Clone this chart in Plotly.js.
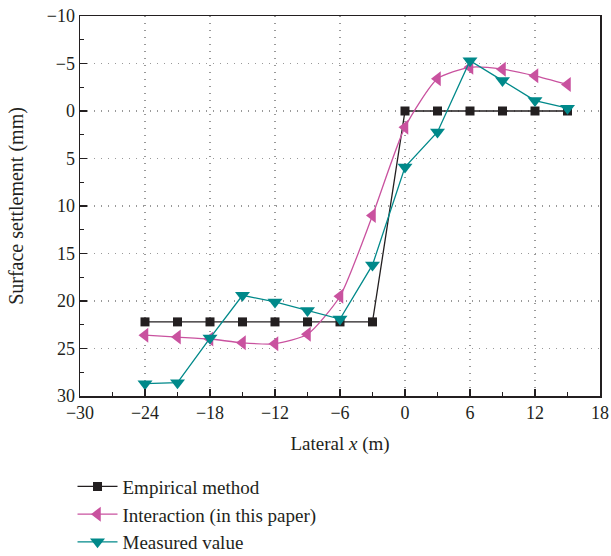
<!DOCTYPE html>
<html>
<head>
<meta charset="utf-8">
<script src="https://cdn.plot.ly/plotly-3.0.1.min.js"></script>
<style>html,body{margin:0;padding:0;background:#fff;}</style>
</head>
<body>
<div id="chart" style="width:611px;height:556px;"></div>
<script>
const xValues = [-24, -21, -18, -15, -12, -9, -6, -3, 0, 3, 6, 9, 12, 15];
const empirical = [22.2, 22.2, 22.2, 22.2, 22.2, 22.2, 22.2, 22.2, 0, 0, 0, 0, 0, 0];
const interaction = [23.6, 23.8, 24.0, 24.4, 24.5, 23.5, 19.5, 11.0, 1.7, -3.4, -4.6, -4.4, -3.7, -2.8];
const measured = [28.7, 28.6, 23.9, 19.4, 20.1, 21.0, 21.9, 16.2, 5.9, 2.2, -5.3, -3.2, -1.1, -0.3];
const seriesNames = ["Empirical method", "Interaction (in this paper)", "Measured value"];
const xTicks = [-30, -24, -18, -12, -6, 0, 6, 12, 18];
const yTicks = [-10, -5, 0, 5, 10, 15, 20, 25, 30];

const FONT = "Liberation Serif, Times New Roman, serif";
const fmt = v => v < 0 ? "\u2212" + Math.abs(v) : String(v);

const traces = [
  {
    x: xValues, y: empirical, name: seriesNames[0], mode: "lines+markers",
    line: {color: "#231f20", width: 1.3},
    marker: {symbol: "square", size: 9, color: "#231f20"}
  },
  {
    x: xValues, y: interaction, name: seriesNames[1], mode: "lines+markers",
    line: {color: "#c9529f", width: 1.3, shape: "spline", smoothing: 0.6},
    marker: {symbol: "triangle-left", size: 13, color: "#c9529f"}
  },
  {
    x: xValues, y: measured, name: seriesNames[2], mode: "lines+markers",
    line: {color: "#00898a", width: 1.3},
    marker: {symbol: "triangle-down", size: 13, color: "#00898a"}
  }
];

const layout = {
  width: 611, height: 556,
  margin: {l: 80, r: 11, t: 16, b: 160},
  paper_bgcolor: "#fff", plot_bgcolor: "#fff",
  font: {family: FONT, size: 18, color: "#231f20"},
  showlegend: true,
  legend: {
    x: -0.0144, xanchor: "left", xref: "paper",
    y: 0.159, yanchor: "top", yref: "container",
    orientation: "v", font: {family: FONT, size: 19, color: "#231f20"},
    bgcolor: "rgba(0,0,0,0)", tracegroupgap: 0, itemwidth: 40
  },
  xaxis: {
    range: [-30, 18], tickvals: xTicks, ticktext: xTicks.map(fmt),
    ticks: "inside", ticklen: 7, tickcolor: "#231f20", tickwidth: 1.3,
    minor: {dtick: 3, tick0: -30, ticks: "inside", ticklen: 4, tickcolor: "#231f20", showgrid: false},
    showline: true, linecolor: "#231f20", linewidth: 1.5, mirror: true,
    showgrid: true, gridcolor: "#999", griddash: "1px,6px", gridwidth: 1.2,
    zeroline: false,
    title: {text: "Lateral <i>x</i> (m)", font: {family: FONT, size: 19}, standoff: 14},
    tickfont: {family: FONT, size: 18}
  },
  yaxis: {
    range: [30, -10], tickvals: yTicks, ticktext: yTicks.map(fmt),
    ticks: "inside", ticklen: 7, tickcolor: "#231f20", tickwidth: 1.3,
    minor: {dtick: 2.5, tick0: -10, ticks: "inside", ticklen: 4, tickcolor: "#231f20", showgrid: false},
    showline: true, linecolor: "#231f20", linewidth: 1.5, mirror: true,
    showgrid: true, gridcolor: "#999", griddash: "1px,6px", gridwidth: 1.2,
    zeroline: false,
    title: {text: "Surface settlement (mm)", font: {family: FONT, size: 20}, standoff: 17},
    tickfont: {family: FONT, size: 18}
  }
};

Plotly.newPlot("chart", traces, layout, {displayModeBar: false, staticPlot: true});
</script>
</body>
</html>
